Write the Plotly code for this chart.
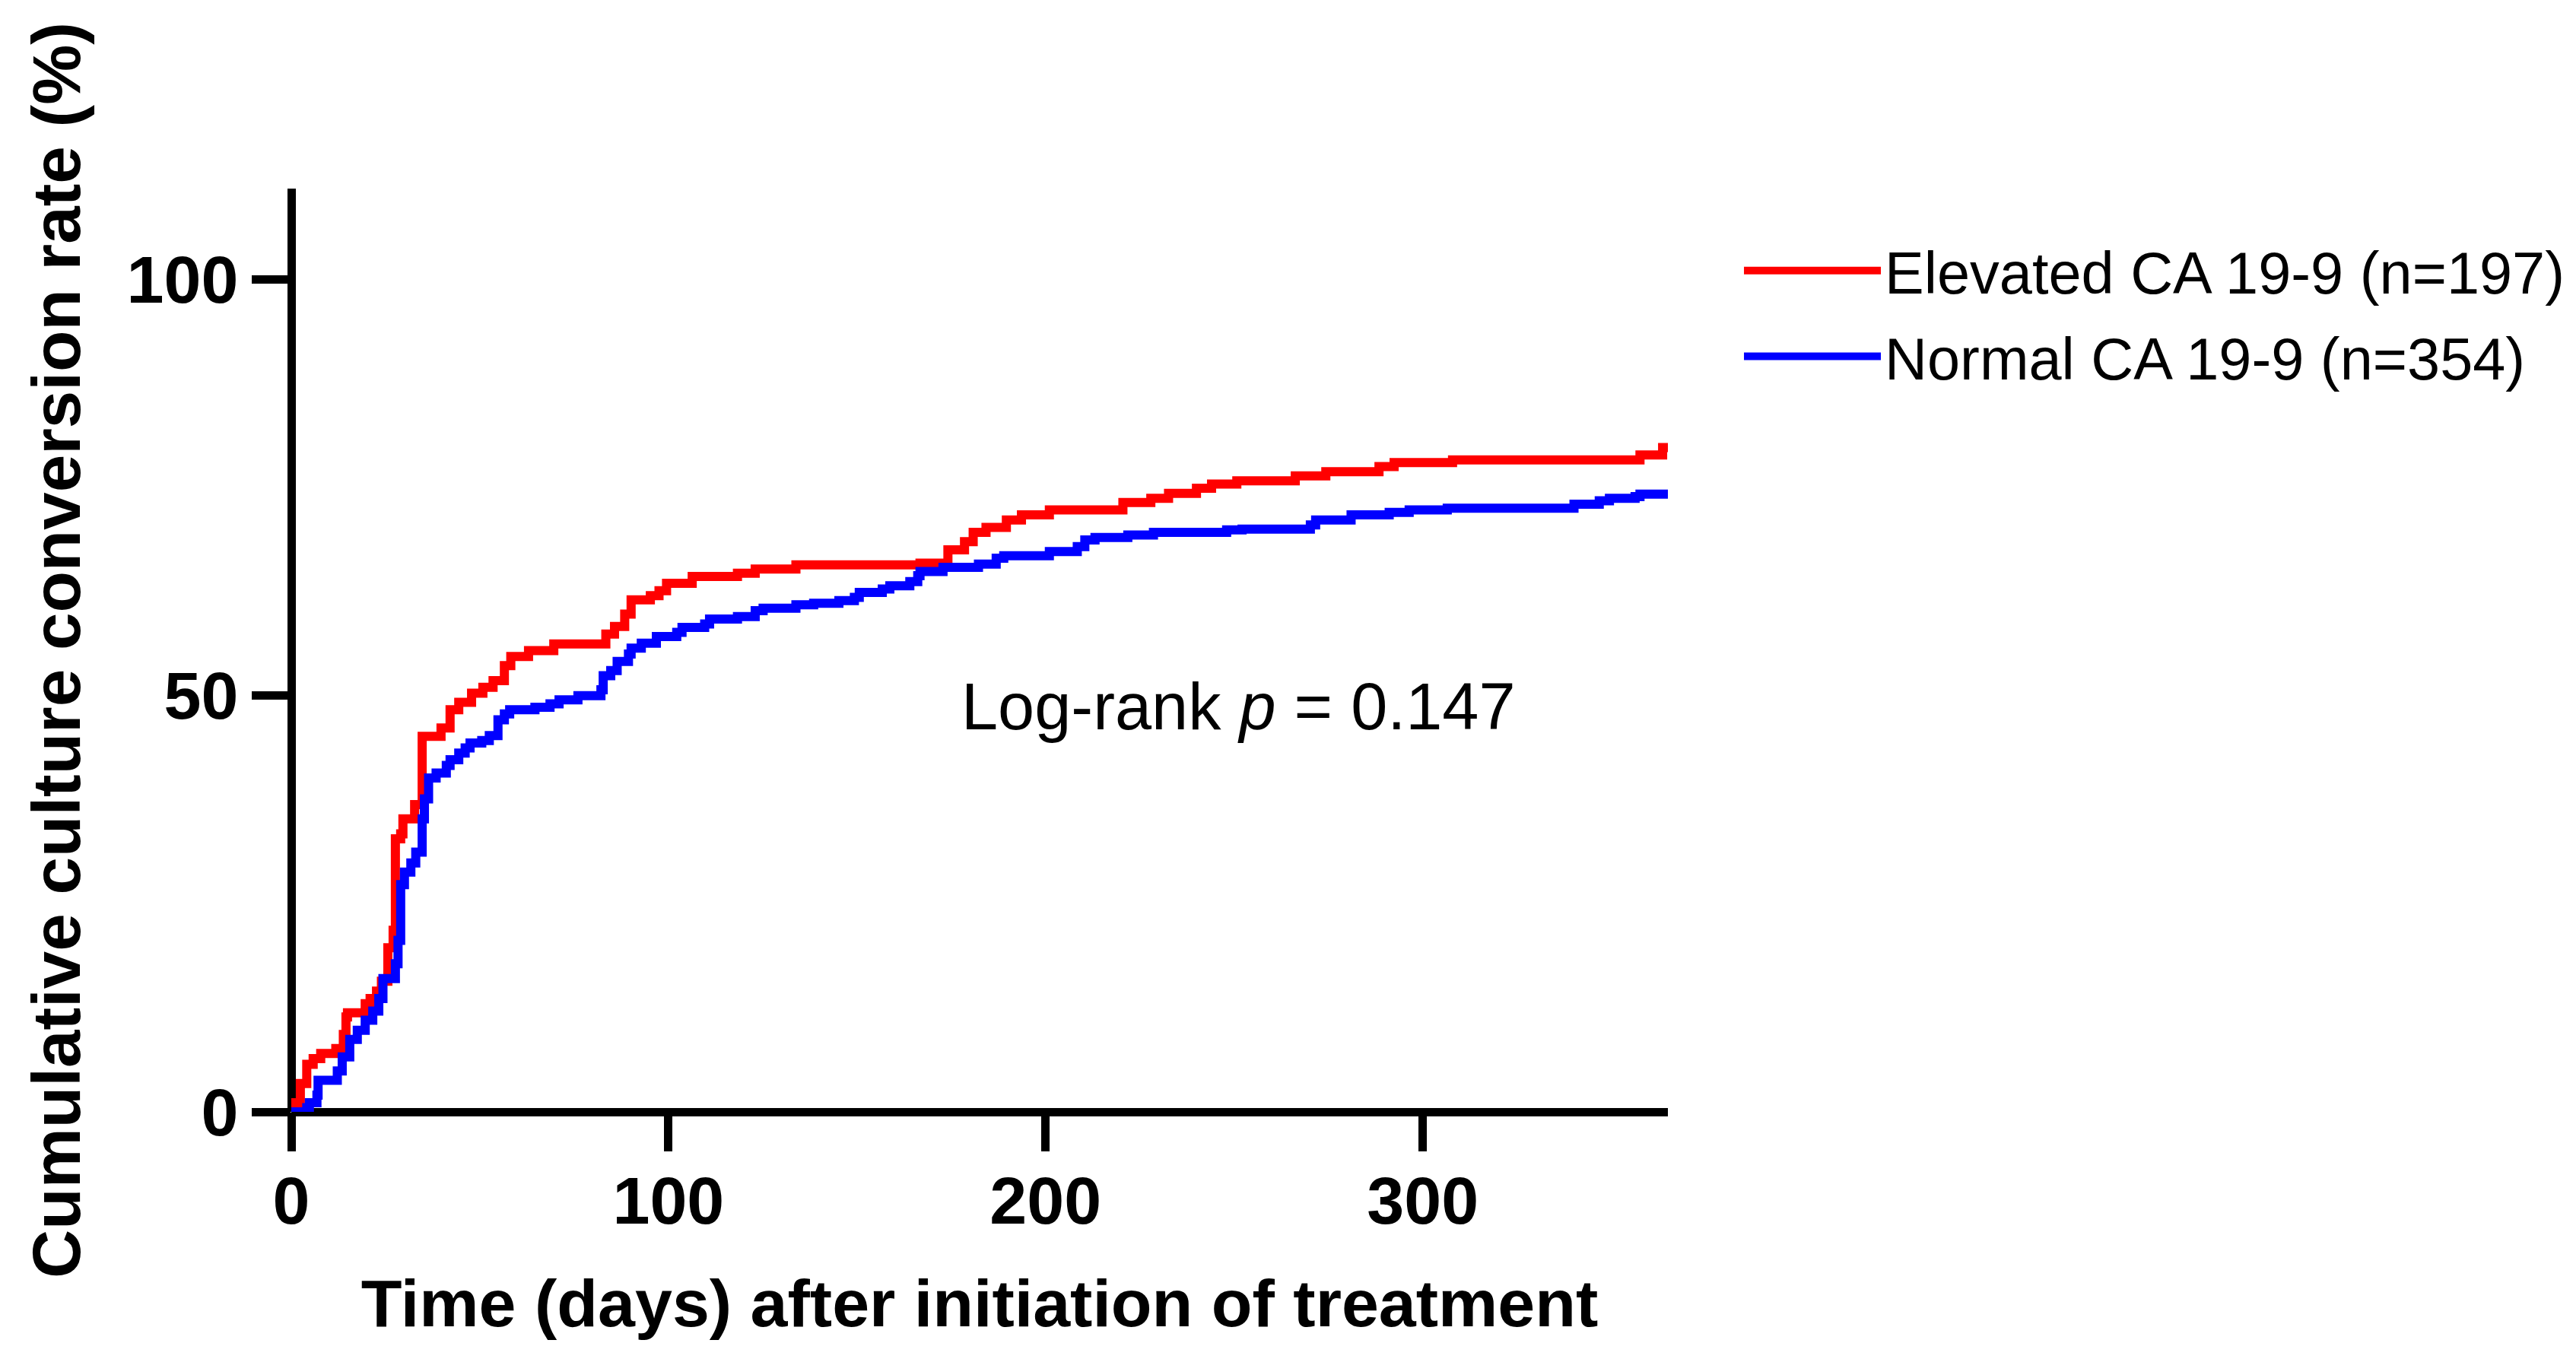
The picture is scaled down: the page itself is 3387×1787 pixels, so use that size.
import plotly.graph_objects as go

# ---- data ----
series_names = ["Elevated CA 19-9 (n=197)", "Normal CA 19-9 (n=354)"]

days_elevated = [0, 0.4, 2.4, 4.1, 5.8, 7.8, 11.8, 13.8, 14.5, 14.9, 19.6, 20.9, 22.6, 23.9, 25.6, 27.0,
                 27.6, 29.0, 29.6, 32.7, 34.7, 39.7, 42.1, 44.4, 47.8, 50.8, 53.5, 56.5, 58.2, 62.9, 69.6,
                 83.4, 85.7, 88.4, 90.1, 95.2, 97.5, 99.5, 106.3, 118.3, 123.0, 133.8, 166.7, 174.1, 178.5,
                 180.8, 184.2, 189.6, 193.6, 201.0, 220.5, 227.9, 232.6, 240.0, 244.0, 250.7, 266.2, 274.3,
                 288.4, 292.4, 307.9, 357.6, 363.6, 365.7]
pct_elevated = [0, 1.1, 3.4, 5.7, 6.4, 7.0, 7.6, 9.3, 11.4, 11.9, 13.0, 13.6, 14.5, 15.7, 19.7, 21.8,
                32.8, 33.4, 35.2, 36.9, 45.1, 46.1, 48.3, 49.2, 50.3, 51.0, 51.8, 53.6, 54.7, 55.4, 56.2,
                57.4, 58.3, 59.8, 61.5, 62.0, 62.6, 63.5, 64.3, 64.7, 65.2, 65.7, 65.9, 67.5, 68.5,
                69.6, 70.2, 71.1, 71.7, 72.3, 73.2, 73.7, 74.3, 74.9, 75.4, 75.8, 76.4, 76.9,
                77.5, 78.0, 78.3, 78.9, 79.8, 79.8]

days_normal = [0, 4.1, 4.8, 6.8, 7.1, 12.2, 13.5, 15.5, 17.5, 19.6, 21.6, 23.2, 24.3, 27.6, 28.3, 29.0,
               30.0, 31.7, 33.0, 34.7, 35.3, 36.4, 38.4, 41.1, 42.1, 44.4, 46.1, 47.4, 50.5, 52.5, 54.8,
               56.5, 57.9, 64.6, 68.6, 71.0, 76.0, 82.1, 82.7, 84.7, 86.4, 89.4, 90.1, 92.8, 96.8, 102.2,
               103.6, 109.6, 110.9, 118.3, 123.0, 125.1, 133.8, 138.5, 145.2, 149.3, 150.6, 156.7, 158.7,
               164.0, 166.1, 166.7, 172.8, 182.2, 186.9, 188.9, 201.0, 208.4, 210.4, 213.1, 221.8, 228.6,
               248.0, 252.1, 270.2, 271.6, 281.0, 291.1, 296.4, 306.5, 340.1, 346.8, 349.5, 356.3, 357.6,
               365.0]
pct_normal = [0, 0.5, 1.1, 2.0, 3.8, 4.9, 6.6, 8.7, 9.8, 11.0, 12.1, 13.6, 16.0, 17.8, 20.6, 27.3,
              28.8, 29.9, 31.2, 35.2, 37.6, 40.1, 40.7, 41.6, 42.3, 43.1, 43.7, 44.3, 44.6, 45.2, 47.1,
              47.8, 48.3, 48.6, 49.0, 49.5, 50.0, 50.7, 52.4, 53.0, 54.1, 55.0, 55.7, 56.3, 57.1, 57.6,
              58.2, 58.6, 59.2, 59.5, 60.2, 60.5, 60.9, 61.1, 61.4, 61.8, 62.4, 62.8, 63.2,
              63.7, 64.4, 64.9, 65.4, 65.8, 66.5, 66.8, 67.3, 67.9, 68.7, 69.0, 69.3, 69.6,
              69.9, 70.0, 70.5, 71.1, 71.7, 72.0, 72.3, 72.5, 73.0, 73.4, 73.7, 73.9, 74.2,
              74.2]

x_ticks = [0, 100, 200, 300]
y_ticks = [0, 50, 100]
x_title = "Time (days) after initiation of treatment"
y_title = "Cumulative culture conversion rate (%)"
annotation_text = "Log-rank <i>p</i> = 0.147"

FONT = "Liberation Sans, Arial, sans-serif"

fig = go.Figure()
fig.add_trace(go.Scatter(x=days_elevated, y=pct_elevated, mode="lines", name=series_names[0],
                         line=dict(color="#FF0000", width=12, shape="hv"), legendgroup="a"))
fig.add_trace(go.Scatter(x=days_normal, y=pct_normal, mode="lines", name=series_names[1],
                         line=dict(color="#0000FF", width=12, shape="hv"), legendgroup="b"))

axis_common = dict(showgrid=False, showline=False,
                   zeroline=True, zerolinecolor="black", zerolinewidth=11,
                   ticks="outside", ticklen=51, tickwidth=11, tickcolor="black",
                   tickfont=dict(family=FONT, size=88, color="black", weight="bold"))

fig.update_xaxes(range=[0, 365], tickvals=x_ticks, ticktext=[str(v) for v in x_ticks],
                 title=dict(text=f"<b>{x_title}</b>", font=dict(family=FONT, size=88, color="black"), standoff=55),
                 ticklabelstandoff=-11, **axis_common)
fig.update_yaxes(range=[0, 110.9], tickvals=y_ticks, ticktext=[str(v) for v in y_ticks],
                 title=dict(text=f"<b>{y_title}</b>", font=dict(family=FONT, size=89, color="black"), standoff=31),
                 ticklabelstandoff=0, **axis_common)

fig.add_annotation(x=251.2, y=48.7, xref="x", yref="y", text=annotation_text, showarrow=False,
                   font=dict(family=FONT, size=86.5, color="black"), xanchor="center", yanchor="middle")

fig.update_layout(
    width=3387, height=1787,
    margin=dict(l=375, r=1202, t=240, b=333, autoexpand=False),
    paper_bgcolor="white", plot_bgcolor="white",
    showlegend=True,
    legend=dict(x=1.0525, y=0.958, xanchor="left", yanchor="top",
                font=dict(family=FONT, size=77.5, color="black"),
                traceorder="grouped", tracegroupgap=9, itemwidth=180,
                bgcolor="rgba(0,0,0,0)"),
)

fig.write_html("out.html")
